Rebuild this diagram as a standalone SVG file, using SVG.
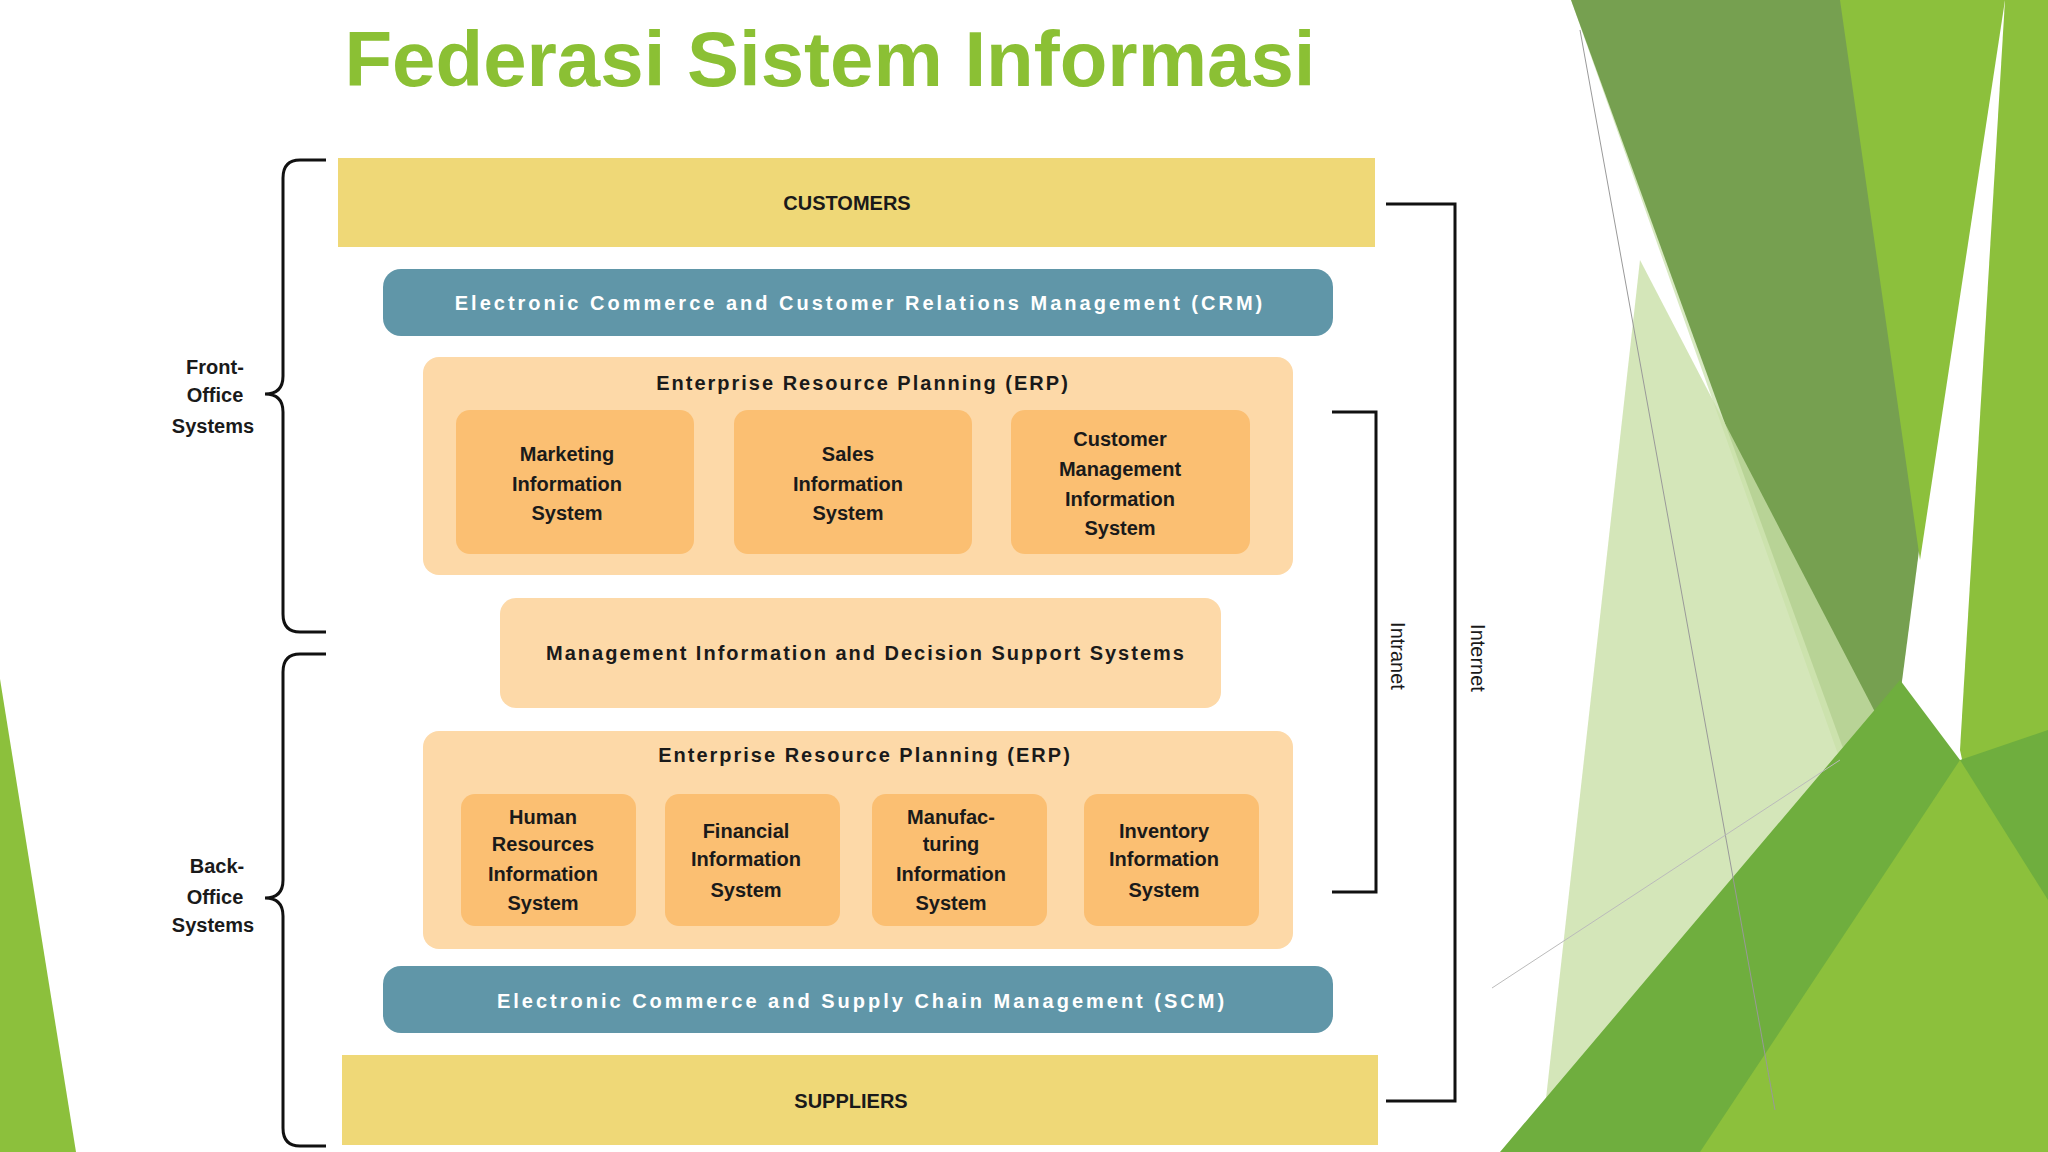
<svg xmlns="http://www.w3.org/2000/svg" width="2048" height="1152" viewBox="0 0 2048 1152">
<style>
text{font-family:"Liberation Sans",Arial,sans-serif;font-weight:bold;fill:#1a1a1a;text-anchor:middle}
.bar{fill:#efd877}.blue{fill:#6096a8}.erp{fill:#fdd9a8}.box{fill:#fbbf72}
.wt{fill:#ffffff;font-size:20px;letter-spacing:3px}
.t{font-size:20px}.h{font-size:20px;letter-spacing:2px}
.br{fill:none;stroke:#111;stroke-width:3}
.side{font-size:20px;font-weight:normal}
</style>
<g id="background">
<polygon points="0,679 76,1152 0,1152" fill="#8cc03c"/>
<polygon points="1571,0 1850,0 1882,500 1840,760" fill="#d8e9c2"/>
<polygon points="1571,0 1848,0 1923,520 1880,850" fill="#76a050"/>
<polygon points="1840,0 2005,0 1920,560" fill="#8cc03c"/>
<polygon points="2005,0 2048,0 2048,1152 1960,750" fill="#8cc03c"/>
<polygon points="1640,260 1900,760 1570,1152 1540,1152" fill="#c9e0a8" opacity="0.8"/>
<polygon points="1500,1152 1900,680 1960,760 2048,730 2048,1152" fill="#6fae3e"/>
<polygon points="1700,1152 1960,760 2048,900 2048,1152" fill="#8cc03c"/>
<line x1="1580" y1="30" x2="1775" y2="1110" stroke="#999" stroke-width="1"/>
<line x1="1492" y1="988" x2="1840" y2="760" stroke="#bbb" stroke-width="1"/>
</g>
<text x="830" y="86" style="font-size:78px;fill:#8bc034">Federasi Sistem Informasi</text>
<g id="customers"><rect class="bar" x="338" y="158" width="1037" height="89"/><text class="t" x="847" y="210">CUSTOMERS</text></g>
<g id="crm"><rect class="blue" x="383" y="269" width="950" height="67" rx="18"/><text class="wt" x="860" y="310">Electronic Commerce and Customer Relations Management (CRM)</text></g>
<g id="erp-front"><rect class="erp" x="423" y="357" width="870" height="218" rx="16"/><text class="h" x="863" y="390">Enterprise Resource Planning (ERP)</text></g>
<g id="marketing"><rect class="box" x="456" y="410" width="238" height="144" rx="14"/><text class="t" x="567" y="461">Marketing<tspan x="567" dy="30">Information</tspan><tspan x="567" dy="29">System</tspan></text></g>
<g id="sales"><rect class="box" x="734" y="410" width="238" height="144" rx="14"/><text class="t" x="848" y="461">Sales<tspan x="848" dy="30">Information</tspan><tspan x="848" dy="29">System</tspan></text></g>
<g id="customer-mis"><rect class="box" x="1011" y="410" width="239" height="144" rx="14"/><text class="t" x="1120" y="446">Customer<tspan x="1120" dy="30">Management</tspan><tspan x="1120" dy="30">Information</tspan><tspan x="1120" dy="29">System</tspan></text></g>
<g id="mis"><rect class="erp" x="500" y="598" width="721" height="110" rx="16"/><text class="h" x="866" y="660">Management Information and Decision Support Systems</text></g>
<g id="erp-back"><rect class="erp" x="423" y="731" width="870" height="218" rx="16"/><text class="h" x="865" y="762">Enterprise Resource Planning (ERP)</text></g>
<g id="hr"><rect class="box" x="461" y="794" width="175" height="132" rx="14"/><text class="t" x="543" y="824">Human<tspan x="543" dy="27">Resources</tspan><tspan x="543" dy="30">Information</tspan><tspan x="543" dy="29">System</tspan></text></g>
<g id="financial"><rect class="box" x="665" y="794" width="175" height="132" rx="14"/><text class="t" x="746" y="838">Financial<tspan x="746" dy="28">Information</tspan><tspan x="746" dy="31">System</tspan></text></g>
<g id="manufacturing"><rect class="box" x="872" y="794" width="175" height="132" rx="14"/><text class="t" x="951" y="824">Manufac-<tspan x="951" dy="27">turing</tspan><tspan x="951" dy="30">Information</tspan><tspan x="951" dy="29">System</tspan></text></g>
<g id="inventory"><rect class="box" x="1084" y="794" width="175" height="132" rx="14"/><text class="t" x="1164" y="838">Inventory<tspan x="1164" dy="28">Information</tspan><tspan x="1164" dy="31">System</tspan></text></g>
<g id="scm"><rect class="blue" x="383" y="966" width="950" height="67" rx="18"/><text class="wt" x="862" y="1008">Electronic Commerce and Supply Chain Management (SCM)</text></g>
<g id="suppliers"><rect class="bar" x="342" y="1055" width="1036" height="90"/><text class="t" x="851" y="1108">SUPPLIERS</text></g>
<g id="connectors">
<path class="br" d="M326,160 H300 Q283,160 283,178 V376 Q283,394 265,394 Q283,394 283,412 V614 Q283,632 300,632 H326"/>
<path class="br" d="M326,654 H300 Q283,654 283,672 V880 Q283,898 265,898 Q283,898 283,916 V1128 Q283,1146 300,1146 H326"/>
<path class="br" d="M1332,412 H1376 V892 H1332"/>
<path class="br" d="M1386,204 H1455 V1101 H1386"/>
</g>
<g id="labels">
<text class="t" x="215" y="374">Front-<tspan x="215" dy="28">Office</tspan><tspan x="213" dy="31">Systems</tspan></text>
<text class="t" x="217" y="873">Back-<tspan x="215" dy="31">Office</tspan><tspan x="213" dy="28">Systems</tspan></text>
<text class="side" transform="translate(1391,656) rotate(90)">Intranet</text>
<text class="side" transform="translate(1471,658) rotate(90)">Internet</text>
</g>
</svg>
